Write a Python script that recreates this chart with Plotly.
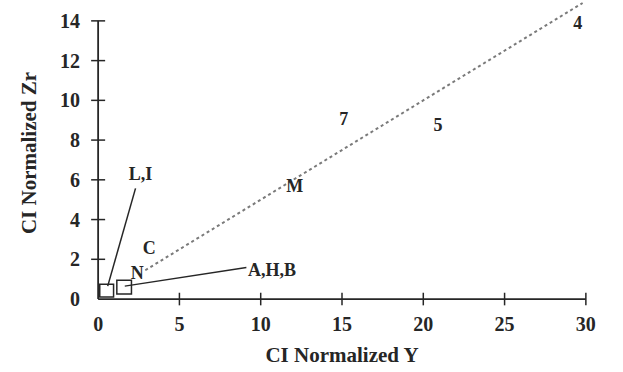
import plotly.graph_objects as go

# Sample labels and their chondrite-normalized (CI) Y and Zr values
labels = ["4", "5", "7", "M", "L,I", "C", "N", "A,H,B"]
ci_y = [29.5, 20.9, 15.1, 12.1, 2.6, 3.15, 2.4, 10.7]
ci_zr = [13.8, 8.7, 9.0, 5.6, 6.2, 2.5, 1.26, 1.37]

# Reference line Zr/Y = 0.5 (CI ratio trend)
ref_y = [2.9, 29.8]
ref_zr = [1.45, 14.9]

# Boxes enclosing the clustered low-value samples (x0, x1, y0, y1)
box_li = [0.1, 0.95, 0.1, 0.75]
box_ahb = [1.15, 2.05, 0.25, 0.95]

# Leader lines from the group labels to their boxes
leader_li_x = [2.3, 0.59]
leader_li_y = [5.57, 0.65]
leader_ahb_x = [9.12, 1.64]
leader_ahb_y = [1.59, 0.65]

# Axis ticks
x_ticks = [0, 5, 10, 15, 20, 25, 30]
y_ticks = [0, 2, 4, 6, 8, 10, 12, 14]

FONT = "Liberation Serif"
INK = "#262626"

fig = go.Figure()

# Dotted reference line
fig.add_trace(go.Scatter(
    x=ref_y, y=ref_zr, mode="lines",
    line=dict(color="#7a7a7a", width=2, dash="dot"),
    hoverinfo="skip", showlegend=False,
))

# Leader lines
for lx, ly in [(leader_li_x, leader_li_y), (leader_ahb_x, leader_ahb_y)]:
    fig.add_trace(go.Scatter(
        x=lx, y=ly, mode="lines",
        line=dict(color=INK, width=1.5),
        hoverinfo="skip", showlegend=False,
    ))

# Boxes
for b in [box_li, box_ahb]:
    fig.add_shape(type="rect", x0=b[0], x1=b[1], y0=b[2], y1=b[3],
                  line=dict(color=INK, width=1.5), fillcolor="rgba(0,0,0,0)")

# Sample labels
fig.add_trace(go.Scatter(
    x=ci_y, y=ci_zr, mode="text", text=labels,
    textfont=dict(family=FONT, size=18, color=INK, weight="bold"),
    textposition="middle center",
    hoverinfo="skip", showlegend=False, cliponaxis=False,
))

# Axis lines
fig.add_shape(type="line", x0=0, x1=x_ticks[-1], y0=0, y1=0,
              line=dict(color=INK, width=1.8))
fig.add_shape(type="line", x0=0, x1=0, y0=0, y1=y_ticks[-1],
              line=dict(color=INK, width=1.8))

# Crossing tick marks
fig.add_trace(go.Scatter(
    x=x_ticks[1:], y=[0] * (len(x_ticks) - 1), mode="markers",
    marker=dict(symbol="line-ns", size=9, line=dict(color=INK, width=1.5)),
    hoverinfo="skip", showlegend=False, cliponaxis=False,
))
fig.add_trace(go.Scatter(
    x=[0] * (len(y_ticks) - 1), y=y_ticks[1:], mode="markers",
    marker=dict(symbol="line-ew", size=10, line=dict(color=INK, width=1.5)),
    hoverinfo="skip", showlegend=False, cliponaxis=False,
))

tick_font = dict(family=FONT, size=20, color=INK, weight="bold")
title_font = dict(family=FONT, size=21, color=INK, weight="bold")

fig.update_xaxes(
    range=[-0.5, 30.5], tickvals=x_ticks, ticktext=[str(v) for v in x_ticks],
    showgrid=False, zeroline=False, showline=False, ticks="",
    tickfont=tick_font, ticklabelstandoff=5,
    title=dict(text="CI Normalized Y", font=title_font, standoff=13),
)
fig.update_yaxes(
    range=[-0.3, 15.0], tickvals=y_ticks, ticktext=[str(v) for v in y_ticks],
    showgrid=False, zeroline=False, showline=False, ticks="",
    tickfont=tick_font, ticklabelstandoff=9,
    title=dict(text="CI Normalized Zr", font=title_font, standoff=17),
)

fig.update_layout(
    width=623, height=372,
    margin=dict(l=90, r=29, t=1, b=67),
    paper_bgcolor="white", plot_bgcolor="white",
)

fig.write_html("out.html")
